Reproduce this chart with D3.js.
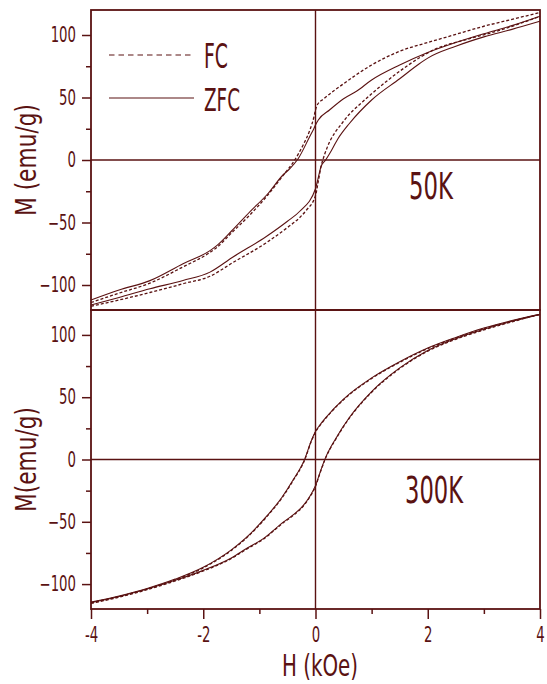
<!DOCTYPE html>
<html>
<head>
<meta charset="utf-8">
<script src="https://cdn.jsdelivr.net/npm/d3@7"></script>
<style>
  body { margin: 0; background: #fff; }
  text { font-family: "DejaVu Sans Condensed", "DejaVu Sans", sans-serif; fill: #5a1212; }
</style>
</head>
<body>
<script>
// M-H loops, [H (kOe), M (emu/g)]
// 50 K, field-cooled (dashed)
var fc50Down = [[4,118],[3.5,112.5],[3,107],[2.5,100.5],[2,94],[1.5,87],[1,76],[0.5,61],[0.15,49],[0.03,44],
  [0,40],[-0.03,34],[-0.1,24],[-0.22,12],[-0.37,0],[-0.58,-12.5],[-0.85,-28],[-1.17,-44],[-1.5,-58.5],
  [-1.76,-70],[-1.9,-74.5],[-2.36,-85.5],[-2.95,-98.5],[-3.5,-106.5],[-4,-114]];
var fc50Up = [[-4,-117],[-3.5,-112],[-2.95,-106],[-2.36,-99],[-1.88,-93],[-1.47,-82],[-0.87,-66],[-0.5,-54],
  [-0.28,-46],[-0.16,-40],[0,-28.5],[0.05,-17],[0.1,-5],[0.13,0],[0.2,9],[0.5,31],[0.85,47],[1,53],
  [1.5,71],[1.86,82],[2.1,88],[2.7,96.5],[3.3,104],[4,115]];
// 50 K, zero-field-cooled (solid)
var zfc50Down = [[4,115],[3.5,107.5],[3,101],[2.5,94],[2,86],[1.5,76],[1,64],[0.73,55],[0.5,49],[0.25,40],
  [0.05,32],[0,28],[-0.03,25],[-0.1,19],[-0.31,1],[-0.46,-7],[-0.58,-12],[-0.85,-27],[-1.17,-41.5],
  [-1.5,-57],[-1.76,-68.5],[-1.88,-72.5],[-2.36,-83],[-2.95,-96.5],[-3.5,-104],[-4,-112]];
var zfc50Up = [[-4,-116],[-3.5,-110],[-2.95,-103],[-2.36,-96.4],[-1.88,-89.7],[-1.47,-77.6],[-0.87,-61],
  [-0.5,-49],[-0.28,-41],[0,-23],[0.05,-14],[0.1,-5],[0.18,0],[0.25,5],[0.4,17],[0.6,29],[1,48],
  [1.5,65],[1.85,77],[2,81.5],[2.5,91],[3,98.5],[3.5,104.5],[4,111]];
// 300 K
var fc300Down = [[4,116.5],[3.5,111],[3,105],[2.5,97.5],[2,89],[1.5,78],[1,65],[0.5,48],[0.2,34],[0.1,28.5],
  [0,22],[-0.08,14],[-0.19,0],[-0.4,-17],[-0.6,-31],[-0.87,-46],[-1.23,-63],[-1.5,-73],[-2,-87],
  [-2.5,-96.5],[-3,-104],[-3.5,-110],[-4,-115]];
var fc300Up = [[-4,-115.5],[-3.5,-110.5],[-3,-104.5],[-2.5,-97.5],[-2,-89.5],[-1.5,-79.5],[-1.23,-72],
  [-0.93,-64],[-0.58,-51],[-0.4,-45],[-0.22,-37.5],[-0.1,-30],[0,-21.5],[0.08,-11],[0.17,0],[0.37,17],
  [0.6,33],[1,54],[1.5,73],[2,87],[2.5,96.5],[3,104],[3.5,110.5],[4,116.5]];
var zfc300Down = [[4,116.5],[3.5,111.5],[3,105.5],[2.5,98],[2,89.5],[1.5,78.5],[1,65.5],[0.5,48.5],[0.2,34.5],
  [0.1,29],[0,22.5],[-0.08,14.5],[-0.19,0.5],[-0.4,-16.5],[-0.6,-30.5],[-0.87,-45.5],[-1.23,-62.5],[-1.5,-72.5],
  [-2,-86.5],[-2.5,-96],[-3,-103.5],[-3.5,-109.5],[-4,-114.5]];
var zfc300Up = [[-4,-115],[-3.5,-110],[-3,-104],[-2.5,-97],[-2,-89],[-1.5,-79],[-1.23,-71.5],
  [-0.93,-63.5],[-0.58,-50.5],[-0.4,-44.5],[-0.22,-37],[-0.1,-29.5],[0,-21],[0.08,-10.5],[0.17,0.5],
  [0.37,17.5],[0.6,33.5],[1,54.5],[1.5,73.5],[2,87.5],[2.5,97],[3,104.5],[3.5,111],[4,116.5]];

var xMajor = [-4,-2,0,2,4], xMinor = [-3,-1,1,3];
var yMajor = [-100,-50,0,50,100], yMinor = [-75,-25,25,75];
var legendNames = ["FC","ZFC"];
var tempNames = ["50K","300K"];

var col = "#5a1212";
var svg = d3.select("body").append("svg").attr("width",547).attr("height",684);

var left = 91, right = 540;
var x = d3.scaleLinear().domain([-4,4]).range([left,right]);

var panels = [
  { top:10,  bottom:310, fc:[fc50Down,fc50Up],   zfc:[zfc50Down,zfc50Up],   label:tempNames[0], lx:409, ly:199, lw:44,
    title:"M (emu/g)", tw:112 },
  { top:310, bottom:609, fc:[fc300Down,fc300Up], zfc:[zfc300Down,zfc300Up], label:tempNames[1], lx:405, ly:503, lw:58,
    title:"M(emu/g)", tw:105 }
];

// squeeze text horizontally so it looks like the narrow font of the original
function narrow(sel, w) {
  sel.attr("textLength", w).attr("lengthAdjust","spacingAndGlyphs");
  return sel;
}

panels.forEach(function(p, i){
  var y = d3.scaleLinear().domain([-120,120]).range([p.bottom,p.top]);
  var g = svg.append("g");

  // zero line
  g.append("line").attr("x1",left).attr("x2",right).attr("y1",y(0)).attr("y2",y(0))
    .style("stroke",col).style("stroke-width",1.4);

  var line = d3.line().x(d=>x(d[0])).y(d=>y(d[1])).curve(d3.curveMonotoneX);
  var asc = a => a.slice().sort((u,v)=>u[0]-v[0]);

  p.zfc.forEach(function(b){
    g.append("path").attr("d", line(asc(b))).style("fill","none")
      .style("stroke",col).style("stroke-width",1.1);
  });
  p.fc.forEach(function(b){
    g.append("path").attr("d", line(asc(b))).style("fill","none")
      .style("stroke",col).style("stroke-width",1.3).style("stroke-dasharray","3,2");
  });

  // y ticks
  var ax = g.append("g").attr("transform","translate("+left+",0)")
    .call(d3.axisLeft(y).tickValues(yMajor).tickSize(9).tickPadding(6));
  g.append("g").attr("transform","translate("+left+",0)")
    .call(d3.axisLeft(y).tickValues(yMinor).tickSize(5).tickFormat(""))
    .select(".domain").remove();
  ax.select(".domain").remove();
  g.selectAll(".tick line").style("stroke",col).style("stroke-width",1.5);
  ax.selectAll("text").style("font-size","20.5px").style("fill",col).attr("font-family",null)
    .attr("transform","scale(0.72,1)").attr("x",-15/0.72);

  // frame
  g.append("rect").attr("x",left).attr("y",p.top).attr("width",right-left).attr("height",p.bottom-p.top)
    .style("fill","none").style("stroke",col).style("stroke-width",1.8);

  // temperature label
  narrow(g.append("text").attr("x",p.lx).attr("y",p.ly).style("font-size","37px").text(p.label), p.lw);

  // y title
  narrow(g.append("text").attr("transform","translate(36,"+((p.top+p.bottom)/2)+") rotate(-90)")
    .attr("text-anchor","middle").style("font-size","28px").text(p.title), p.tw);
});

// vertical zero line across both panels
svg.append("line").attr("x1",x(0)).attr("x2",x(0)).attr("y1",10).attr("y2",609)
  .style("stroke",col).style("stroke-width",1.4);

// x axis
var xa = svg.append("g").attr("transform","translate(0,609)")
  .call(d3.axisBottom(x).tickValues(xMajor).tickSize(10).tickPadding(8).tickFormat(d3.format("d")));
svg.append("g").attr("transform","translate(0,609)")
  .call(d3.axisBottom(x).tickValues(xMinor).tickSize(5).tickFormat(""))
  .select(".domain").remove();
xa.select(".domain").remove();
svg.selectAll(".tick line").style("stroke",col).style("stroke-width",1.5);
xa.selectAll("text").style("font-size","20.5px").style("fill",col).attr("font-family",null)
  .attr("transform","scale(0.72,1)").text(d => d < 0 ? "-" + Math.abs(d) : d);

narrow(svg.append("text").attr("x",320).attr("y",676).attr("text-anchor","middle")
  .style("font-size","31px").text("H (kOe)"), 76);

// legend
var leg = svg.append("g");
[55, 98].forEach(function(ly, i){
  leg.append("line").attr("x1",109).attr("x2",194).attr("y1",ly).attr("y2",ly)
    .style("stroke",col).style("stroke-width",1.2)
    .style("stroke-dasharray", i === 0 ? "5.5,4" : null);
});
narrow(leg.append("text").attr("x",204).attr("y",68).style("font-size","34px").text(legendNames[0]), 24);
narrow(leg.append("text").attr("x",204).attr("y",111).style("font-size","32px").text(legendNames[1]), 36);
</script>
</body>
</html>
